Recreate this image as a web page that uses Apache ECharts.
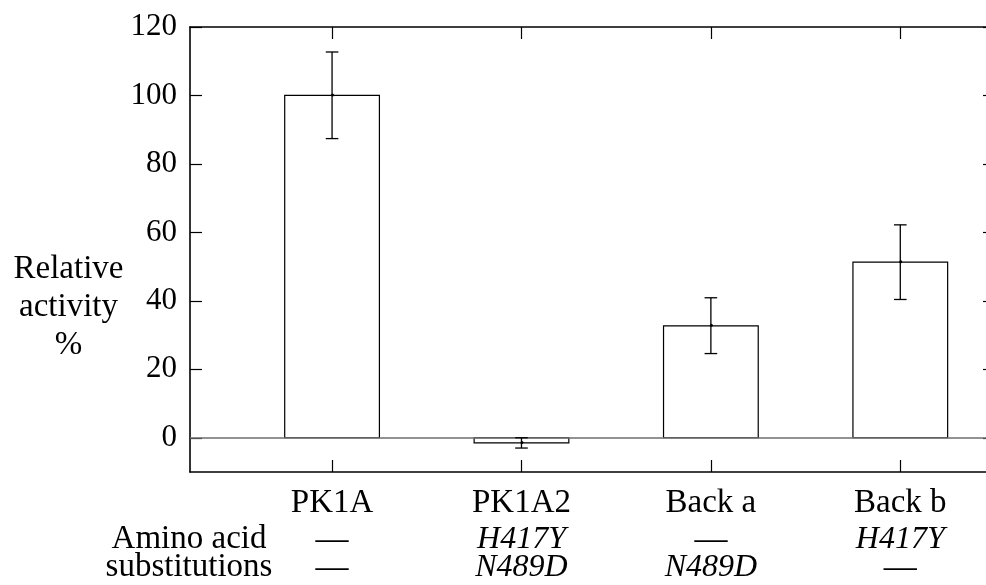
<!DOCTYPE html>
<html><head><meta charset="utf-8">
<script src="https://cdn.jsdelivr.net/npm/echarts@6/dist/echarts.min.js"></script>
<style>html,body{margin:0;padding:0;background:#fff}#c{width:986px;height:585px}</style>
</head><body><div id="c"></div>
<script>
const categories = ['PK1A', 'PK1A2', 'Back a', 'Back b'];
const positions = [1, 2, 3, 4];
const activity = [100, -1.5, 32.7, 51.3];
const errLow = [87.4, -3.0, 24.6, 40.4];
const errHigh = [112.7, 0.0, 40.9, 62.2];
const subst1 = ['—', 'H417Y', '—', 'H417Y'];
const subst2 = ['—', 'N489D', 'N489D', '—'];
const yTicks = [0, 20, 40, 60, 80, 100, 120];

const FONT = 'Liberation Serif';
const FS = 31;     // numbers
const FT = 33;     // upright text
const FI = 32;     // italic text

const chart = echarts.init(document.getElementById('c'), null, {renderer: 'canvas'});

const barData = positions.map((p, i) => [p, activity[i]]);
const errData = positions.map((p, i) => [p, activity[i], errLow[i], errHigh[i]]);

function fmtSub(s) {
  return s === '—' ? '{n|' + s + '}' : '{i|' + s + '}';
}

const axisLineStyle = {color: '#000', width: 1.6};
const tickStyle = {color: '#000', width: 1.2};

const option = {
  backgroundColor: '#fff',
  animation: false,
  grid: {left: 190, top: 27, width: 805, height: 445, containLabel: false, outerBoundsMode: 'none'},
  xAxis: [{
    type: 'value', min: 0.25, max: 4.5, position: 'bottom',
    axisLine: {show: true, onZero: false, lineStyle: axisLineStyle},
    axisTick: {show: true, inside: true, length: 12, customValues: positions, lineStyle: tickStyle},
    splitLine: {show: false},
    axisLabel: {
      show: true, margin: 8, customValues: positions,
      formatter: function (v) {
        const i = Math.round(v) - 1;
        return '{a|' + categories[i] + '}\n' + fmtSub(subst1[i]) + '\n' + fmtSub(subst2[i]);
      },
      rich: {
        a: {fontFamily: FONT, fontSize: FT, lineHeight: 46, color: '#000'},
        n: {fontFamily: FONT, fontSize: FT, lineHeight: 28, color: '#000'},
        i: {fontFamily: FONT, fontSize: FI, fontStyle: 'italic', lineHeight: 28, color: '#000'}
      }
    }
  }, {
    type: 'value', min: 0.25, max: 4.5, position: 'top',
    axisLine: {show: true, onZero: false, lineStyle: axisLineStyle},
    axisTick: {show: true, inside: true, length: 12, customValues: positions, lineStyle: tickStyle},
    splitLine: {show: false},
    axisLabel: {show: false}
  }],
  yAxis: [{
    type: 'value', min: -10, max: 120, position: 'left',
    axisLine: {show: true, onZero: false, lineStyle: axisLineStyle},
    axisTick: {show: true, inside: true, length: 12, customValues: yTicks, lineStyle: tickStyle},
    splitLine: {show: false},
    axisLabel: {show: true, customValues: yTicks, margin: 13, padding: [4, 0, 0, 0], fontFamily: FONT, fontSize: FS, color: '#000'}
  }, {
    type: 'value', min: -10, max: 120, position: 'right',
    axisLine: {show: true, onZero: false, lineStyle: axisLineStyle},
    axisTick: {show: true, inside: true, length: 12, customValues: yTicks, lineStyle: tickStyle},
    splitLine: {show: false},
    axisLabel: {show: false}
  }],
  series: [{
    type: 'custom',
    xAxisIndex: 0, yAxisIndex: 0,
    data: barData,
    z: 2,
    renderItem: function (params, api) {
      const x = api.value(0), v = api.value(1);
      const p1 = api.coord([x - 0.25, v]);
      const p0 = api.coord([x + 0.25, 0]);
      return {
        type: 'rect',
        shape: {x: p1[0], y: Math.min(p1[1], p0[1]), width: p0[0] - p1[0], height: Math.abs(p0[1] - p1[1])},
        style: {fill: '#fff', stroke: '#000', lineWidth: 1.2}
      };
    },
    markLine: {
      silent: true, symbol: 'none', z: 3,
      label: {show: false},
      lineStyle: {color: '#6e6e6e', width: 1.6, type: 'solid'},
      data: [{yAxis: 0}]
    }
  }, {
    type: 'custom',
    xAxisIndex: 0, yAxisIndex: 0,
    data: errData,
    z: 4,
    renderItem: function (params, api) {
      const x = api.value(0);
      const pm = api.coord([x, api.value(1)]);
      const pl = api.coord([x, api.value(2)]);
      const ph = api.coord([x, api.value(3)]);
      const cw = 6.3;
      const st = {stroke: '#000', lineWidth: 1.3};
      return {
        type: 'group',
        children: [
          {type: 'line', shape: {x1: pl[0], y1: pl[1], x2: ph[0], y2: ph[1]}, style: st},
          {type: 'line', shape: {x1: pl[0] - cw, y1: pl[1], x2: pl[0] + cw, y2: pl[1]}, style: st},
          {type: 'line', shape: {x1: ph[0] - cw, y1: ph[1], x2: ph[0] + cw, y2: ph[1]}, style: st},
          {type: 'circle', shape: {cx: pm[0] + 0.5, cy: pm[1] - 0.5, r: 1.5}, style: {fill: '#000'}}
        ]
      };
    }
  }],
  graphic: [{
    type: 'text',
    style: {
      x: 68.5, y: 250, text: 'Relative\nactivity\n%', font: FT + 'px "' + FONT + '"',
      fill: '#000', align: 'center', verticalAlign: 'top', lineHeight: 38
    }
  }, {
    type: 'text',
    style: {x: 189, y: 539, text: 'Amino acid', font: FT + 'px "' + FONT + '"', fill: '#000', align: 'center', verticalAlign: 'middle'}
  }, {
    type: 'text',
    style: {x: 189, y: 567, text: 'substitutions', font: FT + 'px "' + FONT + '"', fill: '#000', align: 'center', verticalAlign: 'middle'}
  }]
};
chart.setOption(option);
</script>
</body></html>
